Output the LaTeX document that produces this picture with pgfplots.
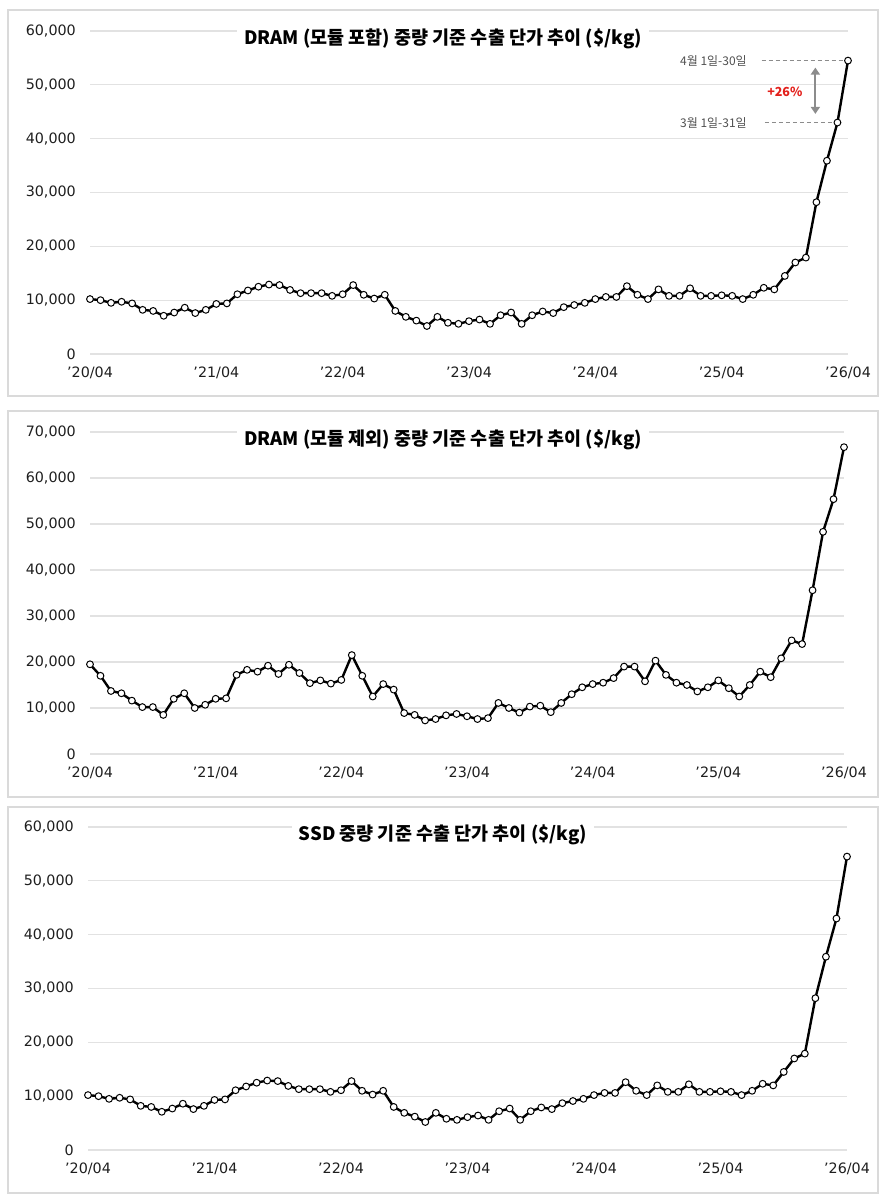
\documentclass[border=0pt]{standalone}
\usepackage{fontspec}
\usepackage{pgfplots}
\usepackage{pgfplotstable}
\pgfplotsset{compat=1.18}
\usetikzlibrary{arrows.meta}
\setmainfont{DejaVu Sans}
\newfontfamily\kr{Noto Sans CJK KR}
\definecolor{gridc}{HTML}{E2E2E2}
\definecolor{boxc}{HTML}{DADADA}
\definecolor{tickc}{HTML}{1E1E1E}
\definecolor{annc}{HTML}{505050}
\definecolor{arrc}{HTML}{8C8C8C}
\definecolor{redc}{HTML}{E3211C}

\pgfplotstableread{
x y
0 10200
1 10000
2 9500
3 9700
4 9400
5 8200
6 8000
7 7100
8 7700
9 8600
10 7600
11 8200
12 9300
13 9400
14 11100
15 11800
16 12500
17 12900
18 12800
19 11900
20 11300
21 11300
22 11300
23 10800
24 11100
25 12800
26 11000
27 10300
28 11000
29 8000
30 6900
31 6200
32 5200
33 6900
34 5800
35 5600
36 6100
37 6400
38 5600
39 7200
40 7700
41 5600
42 7200
43 7900
44 7600
45 8700
46 9100
47 9500
48 10200
49 10600
50 10600
51 12600
52 11000
53 10200
54 12000
55 10800
56 10800
57 12200
58 10800
59 10800
60 10900
61 10800
62 10200
63 11000
64 12300
65 12000
66 14500
67 17000
68 17900
69 28200
70 35900
71 43000
72 54500
}\dataA

\pgfplotstableread{
x y
0 19500
1 17000
2 13700
3 13200
4 11600
5 10200
6 10200
7 8500
8 12000
9 13200
10 10000
11 10700
12 12000
13 12100
14 17200
15 18300
16 17900
17 19200
18 17400
19 19400
20 17600
21 15400
22 16000
23 15300
24 16100
25 21500
26 17000
27 12500
28 15200
29 14000
30 8900
31 8500
32 7300
33 7600
34 8400
35 8700
36 8200
37 7600
38 7800
39 11100
40 10000
41 9000
42 10300
43 10500
44 9100
45 11100
46 13000
47 14500
48 15200
49 15500
50 16500
51 19000
52 19000
53 15800
54 20300
55 17200
56 15500
57 15000
58 13600
59 14500
60 16000
61 14300
62 12500
63 15000
64 17900
65 16700
66 20800
67 24700
68 23900
69 35600
70 48300
71 55400
72 66700
}\dataB

\pgfplotstableread{
x y
0 10200
1 10000
2 9500
3 9700
4 9400
5 8200
6 8000
7 7100
8 7700
9 8600
10 7600
11 8200
12 9300
13 9400
14 11100
15 11800
16 12500
17 12900
18 12800
19 11900
20 11300
21 11300
22 11300
23 10800
24 11100
25 12800
26 11000
27 10300
28 11000
29 8000
30 6900
31 6200
32 5200
33 6900
34 5800
35 5600
36 6100
37 6400
38 5600
39 7200
40 7700
41 5600
42 7200
43 7900
44 7600
45 8700
46 9100
47 9500
48 10200
49 10600
50 10600
51 12600
52 11000
53 10200
54 12000
55 10800
56 10800
57 12200
58 10800
59 10800
60 10900
61 10800
62 10200
63 11000
64 12300
65 12000
66 14500
67 17000
68 17900
69 28200
70 35900
71 43000
72 54500
}\dataC

\pgfplotsset{
  panel/.style={
    scale only axis, anchor=south west,
    xmin=0, xmax=72, ymin=0,
    axis line style={draw=none},
    tick style={draw=none},
    ymajorgrids, xmajorgrids=false,
    grid style={gridc, line width=1.2pt},
    xtick={0,12,...,72},
    xticklabels={’20/04,’21/04,’22/04,’23/04,’24/04,’25/04,’26/04},
    scaled y ticks=false,
    /pgf/number format/fixed,
    /pgf/number format/1000 sep={,},
    /pgf/number format/assume math mode=true,
    every y tick label/.append style={anchor=east, inner sep=0pt, xshift=-14pt},
    every x tick label/.append style={anchor=north, inner sep=0pt, yshift=-13pt},
    tick label style={font=\fontsize{14.3}{16}\selectfont, text=tickc},
    clip=false,
  },
  ser/.style={black, line width=2.4pt, line join=round, mark=*, mark size=3.4pt,
    mark options={fill=white, draw=black, line width=1pt, solid}},
}

\begin{document}
\begin{tikzpicture}
\path[use as bounding box] (0pt,0pt) rectangle (889pt,1200pt);
\draw[boxc, line width=1.3pt] (8pt,804pt) rectangle (878pt,1190pt);
\draw[boxc, line width=1.3pt] (8pt,403pt) rectangle (878pt,789pt);
\draw[boxc, line width=1.3pt] (8pt,7pt) rectangle (878pt,393pt);

% Panel 1
\begin{axis}[panel, at={(90pt,846pt)}, width=758pt, height=323pt, ymax=60000,
  ytick={0,10000,...,60000}]
\addplot[ser] table {\dataA};
\draw[arrc, dashed, dash pattern=on 4pt off 3pt, line width=1pt] (axis cs:63.8,54500) -- (axis cs:71.7,54500);
\draw[arrc, dashed, dash pattern=on 4pt off 3pt, line width=1pt] (axis cs:64.1,43000) -- (axis cs:70.7,43000);
\node[anchor=east, text=annc, inner sep=0pt, font=\kr\fontsize{12}{14}\selectfont] at (axis cs:62.4,54500) {4월 1일-30일};
\node[anchor=east, text=annc, inner sep=0pt, font=\kr\fontsize{12}{14}\selectfont] at (axis cs:62.4,43000) {3월 1일-31일};
\draw[arrc, line width=2pt, {Triangle[width=9pt,length=7pt]}-{Triangle[width=9pt,length=7pt]}] (axis cs:68.9,53200) -- (axis cs:68.9,44600);
\node[text=redc, font=\kr\bfseries\fontsize{12.5}{14}\selectfont] at (axis cs:66,48700) {+26\%};
\end{axis}
\node[fill=white, inner xsep=7pt, inner ysep=2pt, font=\kr\bfseries\fontsize{18.5}{22}\selectfont] at (443pt,1161pt) {DRAM (모듈 포함) 중량 기준 수출 단가 추이 (\$/kg)};

% Panel 2
\begin{axis}[panel, at={(90pt,446pt)}, width=754pt, height=322pt, ymax=70000,
  ytick={0,10000,...,70000}]
\addplot[ser] table {\dataB};
\end{axis}
\node[fill=white, inner xsep=7pt, inner ysep=2pt, font=\kr\bfseries\fontsize{18.5}{22}\selectfont] at (443pt,760.5pt) {DRAM (모듈 제외) 중량 기준 수출 단가 추이 (\$/kg)};

% Panel 3
\begin{axis}[panel, at={(88pt,50pt)}, width=759pt, height=323pt, ymax=60000,
  ytick={0,10000,...,60000}]
\addplot[ser] table {\dataC};
\end{axis}
\node[fill=white, inner xsep=7pt, inner ysep=2pt, font=\kr\bfseries\fontsize{18.5}{22}\selectfont] at (443pt,365pt) {SSD 중량 기준 수출 단가 추이 (\$/kg)};
\end{tikzpicture}
\end{document}
